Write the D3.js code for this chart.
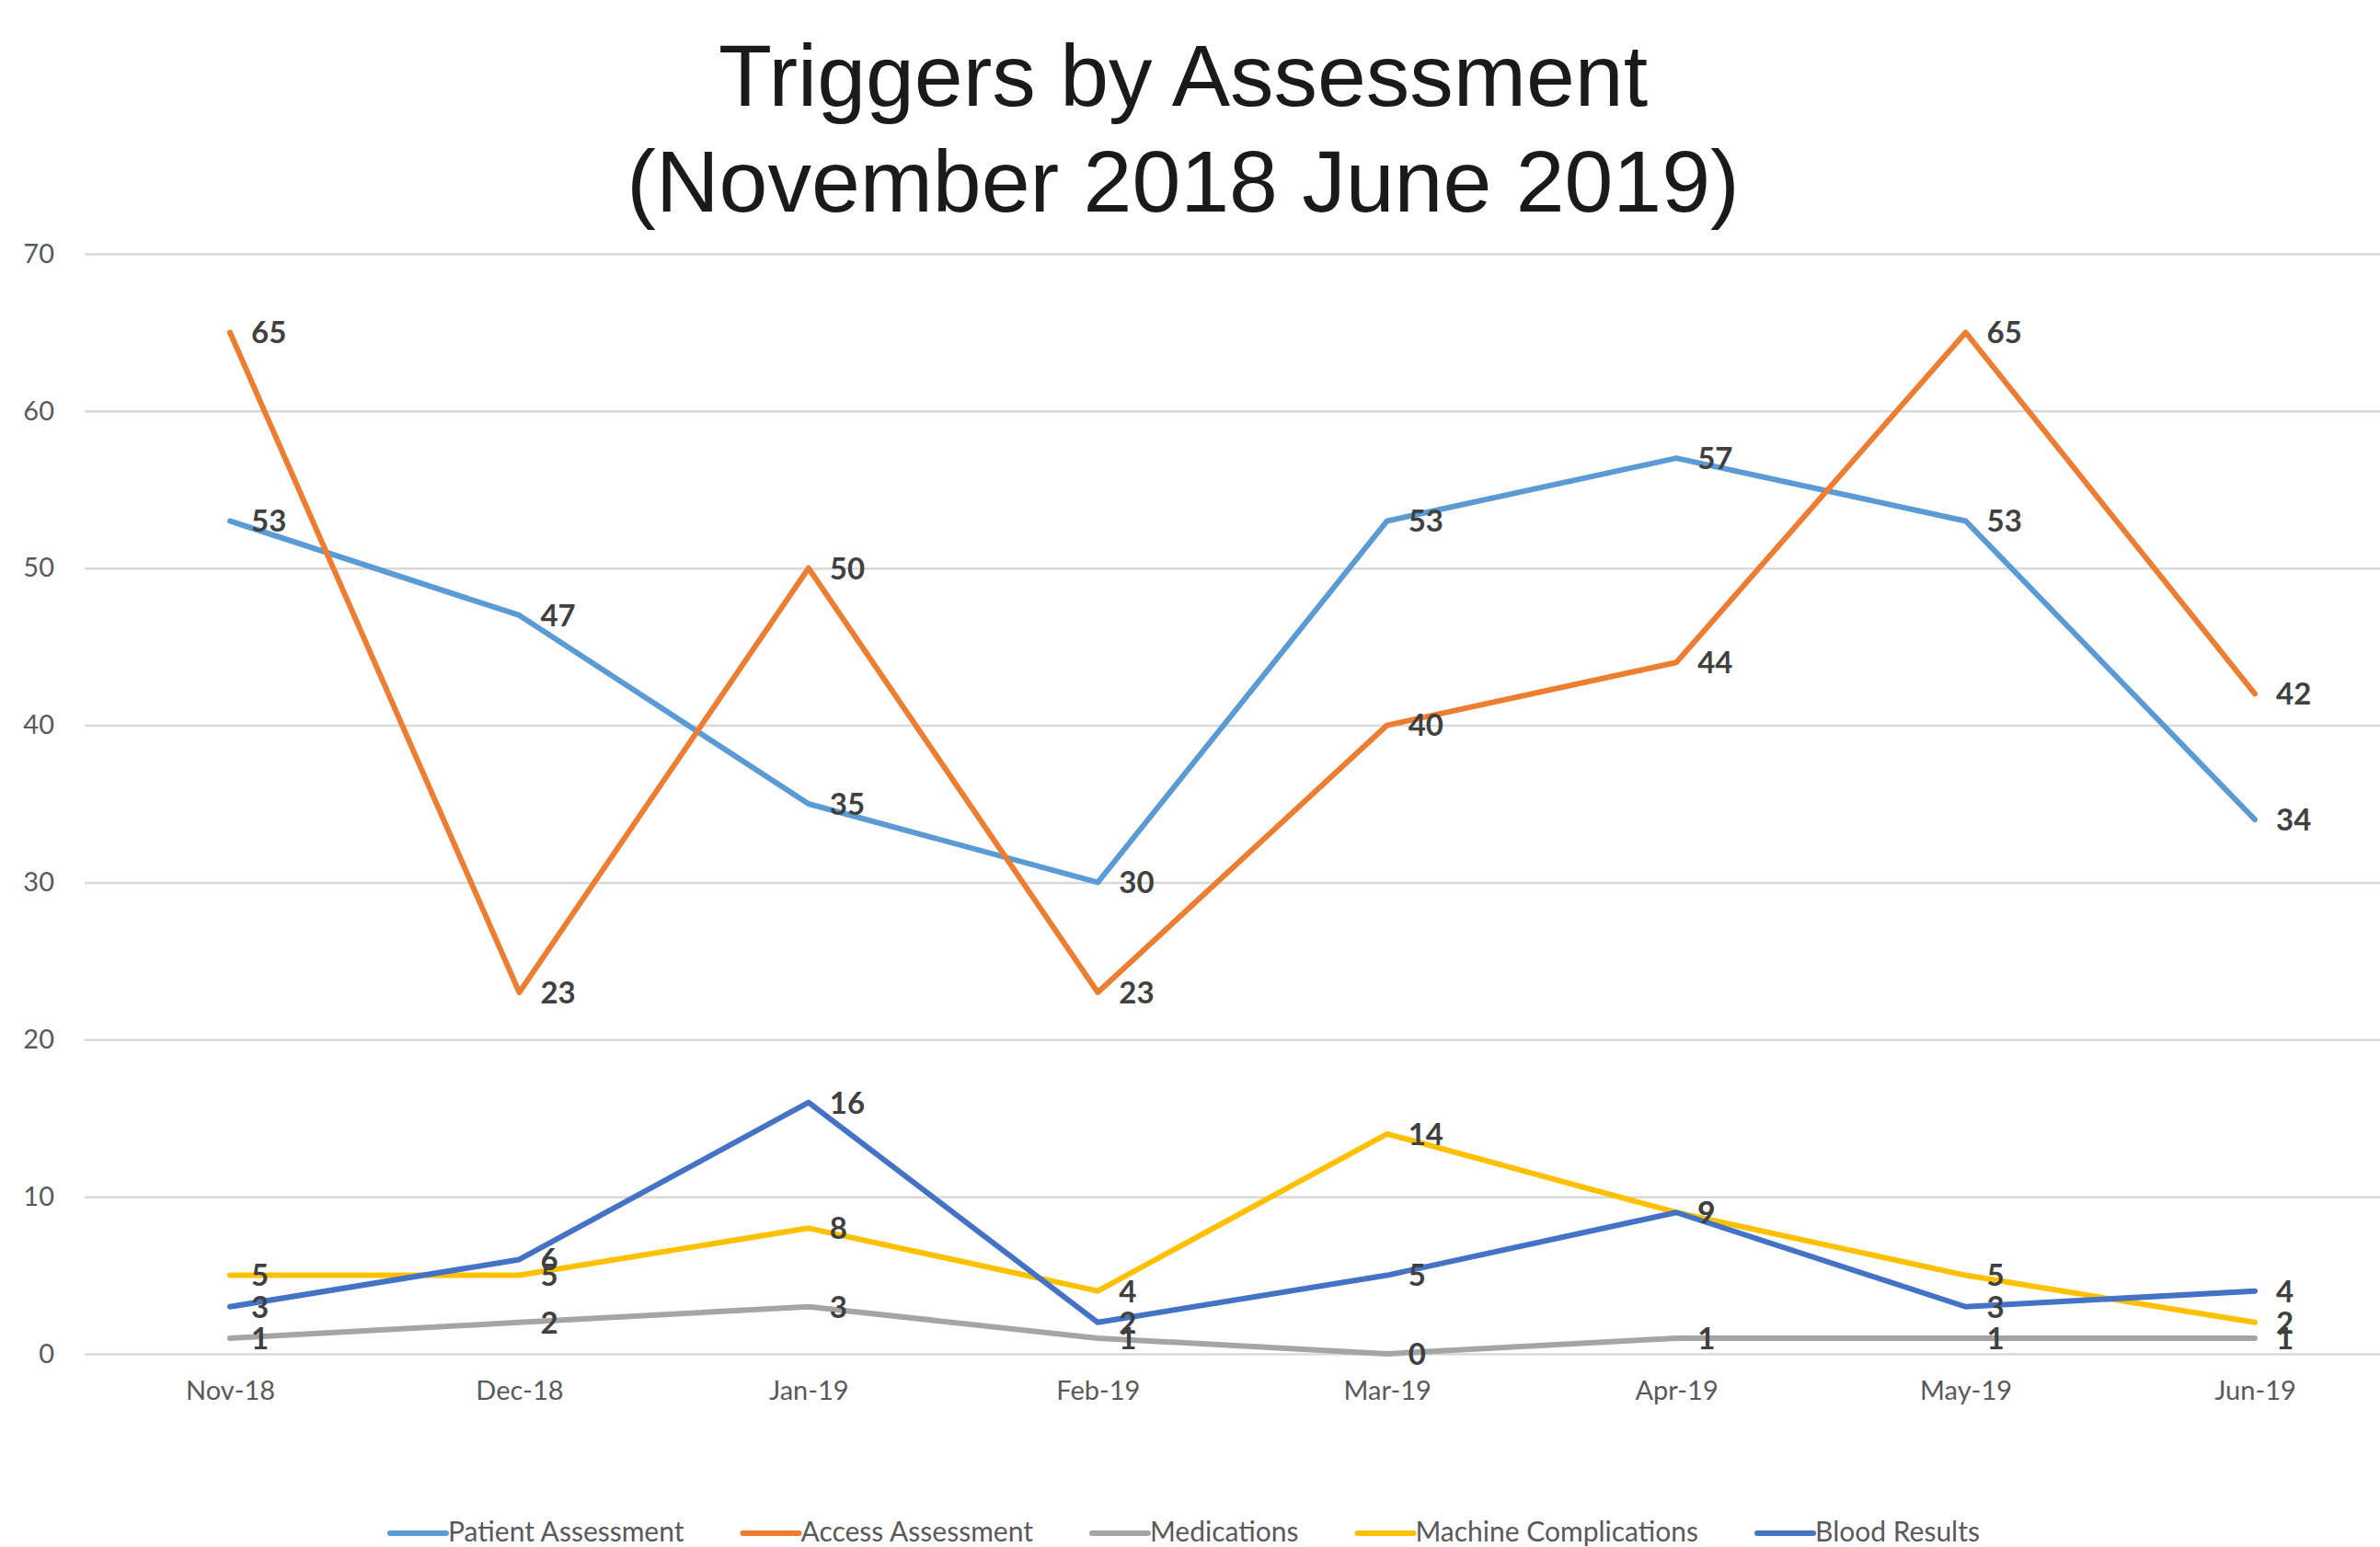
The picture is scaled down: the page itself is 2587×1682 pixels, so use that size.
<!DOCTYPE html>
<html>
<head>
<meta charset="utf-8">
<script src="https://cdn.jsdelivr.net/npm/d3@7"></script>
<style>
  body { margin: 0; background: #fff; }
  svg { display: block; }
</style>
</head>
<body>
<svg id="chart" width="2587" height="1682"></svg>
<script>
const months = ["Nov-18", "Dec-18", "Jan-19", "Feb-19", "Mar-19", "Apr-19", "May-19", "Jun-19"];
const patientAssessment = [53, 47, 35, 30, 53, 57, 53, 34];
const accessAssessment = [65, 23, 50, 23, 40, 44, 65, 42];
const medications = [1, 2, 3, 1, 0, 1, 1, 1];
const machineComplications = [5, 5, 8, 4, 14, 9, 5, 2];
const bloodResults = [3, 6, 16, 2, 5, 9, 3, 4];
const yTicks = [0, 10, 20, 30, 40, 50, 60, 70];

const series = [
  { name: "Patient Assessment", values: patientAssessment, color: "#5B9BD5" },
  { name: "Access Assessment", values: accessAssessment, color: "#ED7D31" },
  { name: "Medications", values: medications, color: "#A5A5A5" },
  { name: "Machine Complications", values: machineComplications, color: "#FFC000" },
  { name: "Blood Results", values: bloodResults, color: "#4472C4" }
];

const svg = d3.select("#chart");
const width = 2587;

const x = d3.scalePoint().domain(months).range([250, 2451]);
const y = d3.scaleLinear().domain([0, 70]).range([1472, 276]);

// title
const title = svg.append("text")
  .attr("text-anchor", "middle")
  .attr("font-family", "Liberation Sans, Arial, sans-serif")
  .attr("font-size", 95)
  .attr("fill", "#1a1a1a");
title.append("tspan").attr("x", 1286).attr("y", 115).text("Triggers by Assessment");
title.append("tspan").attr("x", 1286).attr("y", 230).text("(November 2018 June 2019)");

// gridlines + y labels
const yAxis = d3.axisLeft(y)
  .tickValues(yTicks)
  .tickSize(-(width - 92))
  .tickPadding(33);

svg.append("g")
  .attr("transform", "translate(92,0)")
  .call(yAxis)
  .call(g => g.select(".domain").remove())
  .call(g => g.selectAll(".tick line").attr("stroke", "#D9D9D9").attr("stroke-width", 2.5))
  .call(g => g.selectAll(".tick text")
    .attr("font-family", "Lato, sans-serif")
    .attr("font-size", 29)
    .attr("fill", "#595959"));

// x labels
const xAxis = d3.axisBottom(x).tickSize(0).tickPadding(29);
svg.append("g")
  .attr("transform", "translate(0,1472)")
  .call(xAxis)
  .call(g => g.select(".domain").remove())
  .call(g => g.selectAll(".tick text")
    .attr("font-family", "Lato, sans-serif")
    .attr("font-size", 29)
    .attr("fill", "#595959"));

// lines
const line = d3.line()
  .x((d, i) => x(months[i]))
  .y(d => y(d));

svg.selectAll(".line")
  .data(series)
  .join("path")
  .attr("class", "line")
  .attr("d", d => line(d.values))
  .attr("fill", "none")
  .attr("stroke", d => d.color)
  .attr("stroke-width", 6)
  .attr("stroke-linejoin", "round")
  .attr("stroke-linecap", "round");

// data labels (right of each point)
series.forEach(s => {
  svg.append("g")
    .selectAll("text")
    .data(s.values)
    .join("text")
    .attr("x", (d, i) => x(months[i]) + 23)
    .attr("y", d => y(d))
    .attr("dy", "0.36em")
    .attr("font-family", "Lato, sans-serif")
    .attr("font-weight", "bold")
    .attr("font-size", 33)
    .attr("fill", "#404040")
    .text(d => d);
});

// legend
const legend = svg.append("g").attr("transform", "translate(0,1667)");
const items = legend.selectAll("g")
  .data(series)
  .join("g");

items.append("line")
  .attr("x1", 0).attr("x2", 61)
  .attr("stroke", d => d.color)
  .attr("stroke-width", 6)
  .attr("stroke-linecap", "round");

items.append("text")
  .attr("x", 63)
  .attr("dy", "0.3em")
  .attr("font-family", "Lato, sans-serif")
  .attr("font-size", 30)
  .attr("fill", "#595959")
  .text(d => d.name);

let offset = 0;
const widths = [];
items.each(function () {
  const w = 63 + d3.select(this).select("text").node().getComputedTextLength();
  widths.push(w);
});
const gap = 64;
const total = d3.sum(widths) + gap * (widths.length - 1);
let start = 1288 - total / 2;
items.attr("transform", (d, i) => {
  const tx = start + offset;
  offset += widths[i] + gap;
  return `translate(${tx},0)`;
});
</script>
</body>
</html>
